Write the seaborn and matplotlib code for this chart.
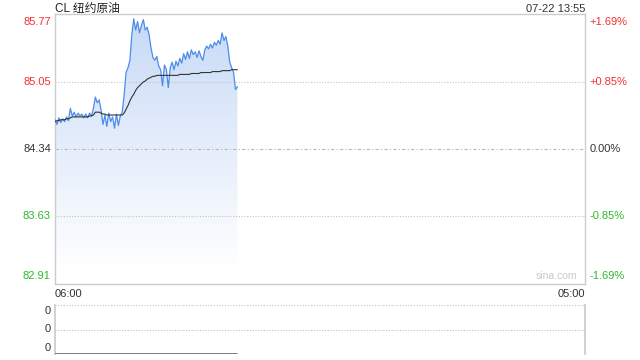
import numpy as np
import pandas as pd
import matplotlib
matplotlib.use("Agg")
import matplotlib.pyplot as plt
import seaborn as sns
from matplotlib.colors import LinearSegmentedColormap

# ---- data (5-minute samples from 06:00, minutes since open) ----
minutes = list(range(0, 480, 5))
price = [84.65, 84.60, 84.67, 84.62, 84.66, 84.63, 84.68, 84.64, 84.77, 84.69,
         84.73, 84.68, 84.72, 84.69, 84.71, 84.67, 84.71, 84.67, 84.72, 84.69,
         84.77, 84.89, 84.83, 84.86, 84.75, 84.60, 84.70, 84.58, 84.72, 84.63,
         84.68, 84.56, 84.71, 84.59, 84.69, 84.73, 84.91, 85.15, 85.20, 85.28,
         85.55, 85.72, 85.60, 85.69, 85.57, 85.65, 85.71, 85.60, 85.63, 85.55,
         85.41, 85.31, 85.28, 85.32, 85.22, 85.18, 85.01, 85.23, 85.18, 84.99,
         85.20, 85.26, 85.18, 85.27, 85.22, 85.30, 85.25, 85.35, 85.29, 85.37,
         85.30, 85.39, 85.34, 85.37, 85.31, 85.38, 85.32, 85.28, 85.39, 85.43,
         85.40, 85.45, 85.41, 85.47, 85.44, 85.49, 85.45, 85.57, 85.49, 85.53,
         85.43, 85.26, 85.20, 85.15, 84.97, 85.00]
avg_price = [84.63, 84.64, 84.64, 84.65, 84.65, 84.65, 84.66, 84.66, 84.67, 84.68,
             84.68, 84.68, 84.68, 84.68, 84.68, 84.68, 84.68, 84.68, 84.69, 84.69,
             84.70, 84.73, 84.73, 84.73, 84.72, 84.71, 84.71, 84.70, 84.70, 84.70,
             84.70, 84.70, 84.70, 84.70, 84.70, 84.70, 84.72, 84.76, 84.80, 84.85,
             84.89, 84.92, 84.96, 84.99, 85.01, 85.03, 85.05, 85.06, 85.08, 85.09,
             85.10, 85.11, 85.11, 85.12, 85.12, 85.12, 85.12, 85.12, 85.12, 85.12,
             85.12, 85.12, 85.12, 85.12, 85.12, 85.13, 85.13, 85.13, 85.13, 85.13,
             85.13, 85.14, 85.14, 85.14, 85.14, 85.14, 85.15, 85.15, 85.15, 85.15,
             85.15, 85.15, 85.16, 85.16, 85.16, 85.16, 85.16, 85.17, 85.17, 85.17,
             85.17, 85.17, 85.18, 85.18, 85.18, 85.18]
volume = [0] * len(minutes)

left_ticks = [85.77, 85.05, 84.34, 83.63, 82.91]
left_labels = ["85.77", "85.05", "84.34", "83.63", "82.91"]
right_labels = ["+1.69%", "+0.85%", "0.00%", "-0.85%", "-1.69%"]
tick_colors = ["#f23030", "#f23030", "#333333", "#2db82d", "#2db82d"]
title_text = "CL 纽约原油"
time_text = "07-22 13:55"
x_start_label, x_end_label = "06:00", "05:00"
session_len = 1380

df = pd.DataFrame({"minute": minutes, "price": price, "avg": avg_price, "volume": volume})

sns.set_theme(style="white")
plt.rcParams["font.family"] = ["Liberation Sans", "Noto Sans CJK SC", "DejaVu Sans"]

fig = plt.figure(figsize=(6.4, 3.6), dpi=100)
ax = fig.add_axes([55/640, 1 - 284/360, 530/640, 270/360])
ax2 = fig.add_axes([55/640, 1 - 354/360, 530/640, 49/360])

ymin, ymax = left_ticks[-1], left_ticks[0]

# gradient fill under price
poly = ax.fill_between(df["minute"], df["price"], ymin, color="none", lw=0)
cmap = LinearSegmentedColormap.from_list("g", ["#c6d9f7", "#e4edfb", "#ffffff"])
grad = np.linspace(0, 1, 256).reshape(-1, 1)
im = ax.imshow(grad, cmap=cmap, aspect="auto",
               extent=[0, minutes[-1], 83.05, ymax], origin="upper", zorder=1)
im.set_clip_path(poly.get_paths()[0], transform=ax.transData)

sns.lineplot(data=df, x="minute", y="price", ax=ax, color="#4d8cec", lw=0.9, zorder=3)
sns.lineplot(data=df, x="minute", y="avg", ax=ax, color="#333333", lw=0.8, zorder=4)

ax.set_xlim(0, session_len)
ax.set_ylim(ymin, ymax)
ax.set_xlabel("")
ax.set_ylabel("")
ax.set_xticks([])
ax.set_yticks([])
for s in ax.spines.values():
    s.set_color("#cccccc")
    s.set_linewidth(1.0)

for v in [85.05, 83.63]:
    ax.axhline(v, color="#c4c4c4", lw=0.8, ls=(0, (1, 1.5)), zorder=2)
ax.axhline(84.34, color="#b8b8b8", lw=0.8, ls=(0, (3, 2, 1, 2)), zorder=2)

vas = ["top", "center", "center", "center", "bottom"]
offs = [-0.012, 0, 0, 0, 0.012]
for v, lt, rt, c, va, o in zip(left_ticks, left_labels, right_labels, tick_colors, vas, offs):
    yy = (v - ymin) / (ymax - ymin) + o
    ax.text(-0.008, yy, lt, transform=ax.transAxes, ha="right", va=va, fontsize=8, color=c)
    ax.text(1.008, yy, rt, transform=ax.transAxes, ha="left", va=va, fontsize=8, color=c)

ax.text(0.0, 1.008, title_text, transform=ax.transAxes, ha="left", va="baseline",
        fontsize=8.5, color="#222222")
ax.text(1.0, 1.008, time_text, transform=ax.transAxes, ha="right", va="baseline",
        fontsize=8, color="#333333")
ax.text(0.985, 0.012, "sina.com", transform=ax.transAxes, ha="right", va="bottom",
        fontsize=7.5, color="#c8c8c8")
ax.text(0.0, -0.02, x_start_label, transform=ax.transAxes, ha="left", va="top",
        fontsize=8, color="#333333")
ax.text(1.0, -0.02, x_end_label, transform=ax.transAxes, ha="right", va="top",
        fontsize=8, color="#333333")

# volume panel
sns.lineplot(data=df, x="minute", y="volume", ax=ax2, color="#666666", lw=1.2, zorder=3)
ax2.set_xlim(0, session_len)
ax2.set_ylim(0, 1)
ax2.set_xlabel("")
ax2.set_ylabel("")
ax2.set_xticks([])
ax2.set_yticks([])
for v, va, o in zip([0, 0.5, 1], ["bottom", "center", "top"], [0.03, 0, -0.03]):
    ax2.axhline(v, color="#c0c0c0", lw=0.8, ls=(0, (1, 1.5)), zorder=1)
    ax2.text(-0.008, v + o, "0", transform=ax2.transAxes, ha="right", va=va,
             fontsize=8, color="#333333")
ax2.spines["top"].set_visible(False)
ax2.spines["bottom"].set_visible(False)
for k in ["left", "right"]:
    ax2.spines[k].set_color("#cccccc")

fig.savefig("out.png", dpi=100)
